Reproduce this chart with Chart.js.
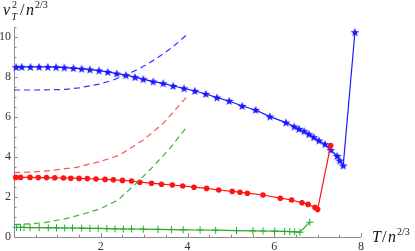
<!DOCTYPE html>
<html>
<head>
<meta charset="utf-8">
<script src="https://cdn.jsdelivr.net/npm/chart.js@4.4.1/dist/chart.umd.min.js"></script>
<style>
  html, body { margin: 0; padding: 0; background: #fff; }
  #wrap { width: 415px; height: 251px; }
</style>
</head>
<body>
<div id="wrap"><canvas id="chart" width="415" height="251"></canvas></div>
<script>
// values
const blueT = [0.05,0.18,0.38,0.58,0.78,0.97,1.16,1.37,1.56,1.75,1.96,2.16,2.37,2.58,2.79,2.98,3.21,3.44,3.67,3.92,4.17,4.42,4.68,4.96,5.26,5.57,5.9,6.27,6.46,6.57,6.69,6.8,6.91,7.03,7.17,7.3,7.45,7.51,7.59,7.86];
const blueV = [8.49,8.5,8.5,8.5,8.5,8.49,8.47,8.44,8.41,8.37,8.32,8.25,8.17,8.09,7.99,7.89,7.77,7.68,7.55,7.43,7.3,7.15,6.97,6.8,6.55,6.35,6.02,5.72,5.52,5.4,5.29,5.14,4.99,4.82,4.64,4.35,4.05,3.82,3.57,10.24];

const redT = [0.04,0.15,0.37,0.56,0.75,0.94,1.14,1.31,1.5,1.69,1.89,2.1,2.29,2.5,2.71,2.9,3.17,3.4,3.65,3.89,4.15,4.44,4.72,5.03,5.21,5.38,5.74,6.14,6.4,6.64,6.78,6.94,7.0,7.3];
const redV = [2.98,2.98,2.98,2.97,2.97,2.96,2.95,2.94,2.93,2.92,2.9,2.88,2.86,2.83,2.8,2.74,2.69,2.64,2.6,2.55,2.49,2.43,2.35,2.28,2.24,2.19,2.1,1.94,1.85,1.71,1.63,1.48,1.38,4.57];

const greenT = [0.06,0.15,0.23,0.37,0.58,0.79,0.98,1.17,1.35,1.56,1.75,1.94,2.14,2.33,2.52,2.71,2.98,3.32,3.63,3.9,4.29,4.65,5.13,5.51,5.74,6.01,6.24,6.36,6.47,6.59,6.82];
const greenV = [0.48,0.48,0.48,0.47,0.47,0.46,0.46,0.45,0.45,0.44,0.43,0.43,0.42,0.41,0.4,0.4,0.39,0.38,0.37,0.36,0.35,0.34,0.32,0.31,0.3,0.29,0.28,0.27,0.26,0.24,0.74];

const blueDashT = [0,0.5,1.0,1.21,1.5,1.98,2.3,2.58,2.9,3.29,3.67,4.02];
const blueDashV = [7.35,7.35,7.37,7.38,7.46,7.65,7.86,8.1,8.43,8.93,9.52,10.18];
const redDashT = [0,0.4,0.83,1.44,1.98,2.44,2.98,3.44,3.98];
const redDashV = [3.22,3.25,3.32,3.48,3.77,4.1,4.85,5.68,7.0];
const greenDashT = [0,0.4,0.7,1.2,1.6,2.0,2.4,2.86,3.2,3.6,4.0];
const greenDashV = [0.62,0.66,0.72,0.92,1.15,1.42,1.85,2.77,3.5,4.45,5.55];

const xTicks = [2,4,6,8];
const yTicks = [0,2,4,6,8,10];

const BLUE = 'rgb(25,25,255)';
const RED = 'rgb(255,20,20)';
const GREEN = 'rgb(40,170,40)';

const pts = (xs, ys) => xs.map((x, i) => ({ x: x, y: ys[i] }));

// filled five point star for the blue markers
const star = document.createElement('canvas');
star.width = 10; star.height = 10;
(() => {
    const c = star.getContext('2d');
    c.fillStyle = BLUE;
    c.beginPath();
    for (let i = 0; i < 10; i++) {
        const r = i % 2 === 0 ? 4.6 : 1.9;
        const a = -Math.PI / 2 + i * Math.PI / 5;
        const px = 5 + r * Math.cos(a), py = 5.3 + r * Math.sin(a);
        i === 0 ? c.moveTo(px, py) : c.lineTo(px, py);
    }
    c.closePath();
    c.fill();
})();

const axesPlugin = {
    id: 'mmaAxes',
    beforeDatasetsDraw(chart) {
        const c = chart.ctx, xs = chart.scales.x, ys = chart.scales.y;
        const x0 = xs.getPixelForValue(0), y0 = ys.getPixelForValue(0);
        c.save();
        c.strokeStyle = '#8c8c8c';
        c.lineWidth = 1;
        c.beginPath();
        c.moveTo(x0, y0 + 0.5); c.lineTo(xs.getPixelForValue(8), y0 + 0.5);
        c.moveTo(x0 + 0.5, y0); c.lineTo(x0 + 0.5, ys.getPixelForValue(10.5));
        for (let v = 0.5; v <= 8.001; v += 0.5) {
            const px = Math.round(xs.getPixelForValue(v)) + 0.5;
            const len = Math.abs(v % 2) < 0.01 ? 4 : 2.5;
            c.moveTo(px, y0); c.lineTo(px, y0 - len);
        }
        for (let v = 0.5; v <= 10.5; v += 0.5) {
            const py = Math.round(ys.getPixelForValue(v)) + 0.5;
            const len = Math.abs(v % 2) < 0.01 ? 4 : 2.5;
            c.moveTo(x0, py); c.lineTo(x0 + len, py);
        }
        c.stroke();

        c.fillStyle = '#333';
        c.font = '12px "Liberation Serif"';
        c.textAlign = 'center'; c.textBaseline = 'middle';
        xTicks.forEach(v => c.fillText(String(v), xs.getPixelForValue(v), y0 + 10));
        c.textAlign = 'right';
        yTicks.forEach(v => c.fillText(String(v), x0 - 3, ys.getPixelForValue(v)));

        // axis labels
        c.fillStyle = '#111';
        c.textAlign = 'left'; c.textBaseline = 'alphabetic';
        const it = s => 'italic ' + s + 'px "Liberation Serif"';
        const rm = s => s + 'px "Liberation Serif"';
        c.font = it(16); c.fillText('v', 3, 15);
        c.font = rm(10); c.fillText('2', 12, 8);
        c.font = it(10); c.fillText('T', 11.5, 20);
        c.font = rm(16); c.fillText('/', 20, 15);
        c.font = it(16); c.fillText('n', 26, 15);
        c.font = rm(10); c.fillText('2/3', 35, 8);

        c.font = it(16); c.fillText('T', 372, 242);
        c.font = rm(16); c.fillText('/', 382, 242);
        c.font = it(16); c.fillText('n', 388, 242);
        c.font = rm(10); c.fillText('2/3', 397, 235);
        c.restore();
    }
};

new Chart(document.getElementById('chart'), {
    type: 'scatter',
    data: {
        datasets: [
            { data: pts(blueDashT, blueDashV), showLine: true, borderColor: 'rgba(40,40,255,0.95)', borderWidth: 1.2, borderDash: [6, 4], pointRadius: 0 },
            { data: pts(redDashT, redDashV), showLine: true, borderColor: 'rgba(255,60,60,0.9)', borderWidth: 1.2, borderDash: [6, 4], pointRadius: 0 },
            { data: pts(greenDashT, greenDashV), showLine: true, borderColor: 'rgba(50,175,50,0.95)', borderWidth: 1.2, borderDash: [6, 4], pointRadius: 0 },
            { data: pts(greenT, greenV), showLine: true, borderColor: GREEN, borderWidth: 1.2, pointStyle: 'cross', pointRadius: 3.6, pointBorderColor: GREEN, pointBorderWidth: 1 },
            { data: pts(redT, redV), showLine: true, borderColor: RED, borderWidth: 1.2, pointStyle: 'circle', pointRadius: 2.8, pointBackgroundColor: RED, pointBorderColor: RED, pointBorderWidth: 0 },
            { data: pts(blueT, blueV), showLine: true, borderColor: BLUE, borderWidth: 1.2, pointStyle: star, pointRadius: 4 }
        ]
    },
    options: {
        responsive: false,
        animation: false,
        clip: false,
        layout: { padding: { left: 14, right: 54, top: 27, bottom: 14 } },
        plugins: { legend: { display: false }, tooltip: { enabled: false } },
        elements: { line: { tension: 0 } },
        scales: {
            x: { type: 'linear', min: 0, max: 8, display: false },
            y: { type: 'linear', min: 0, max: 10.5, display: false }
        }
    },
    plugins: [axesPlugin]
});
</script>
</body>
</html>
